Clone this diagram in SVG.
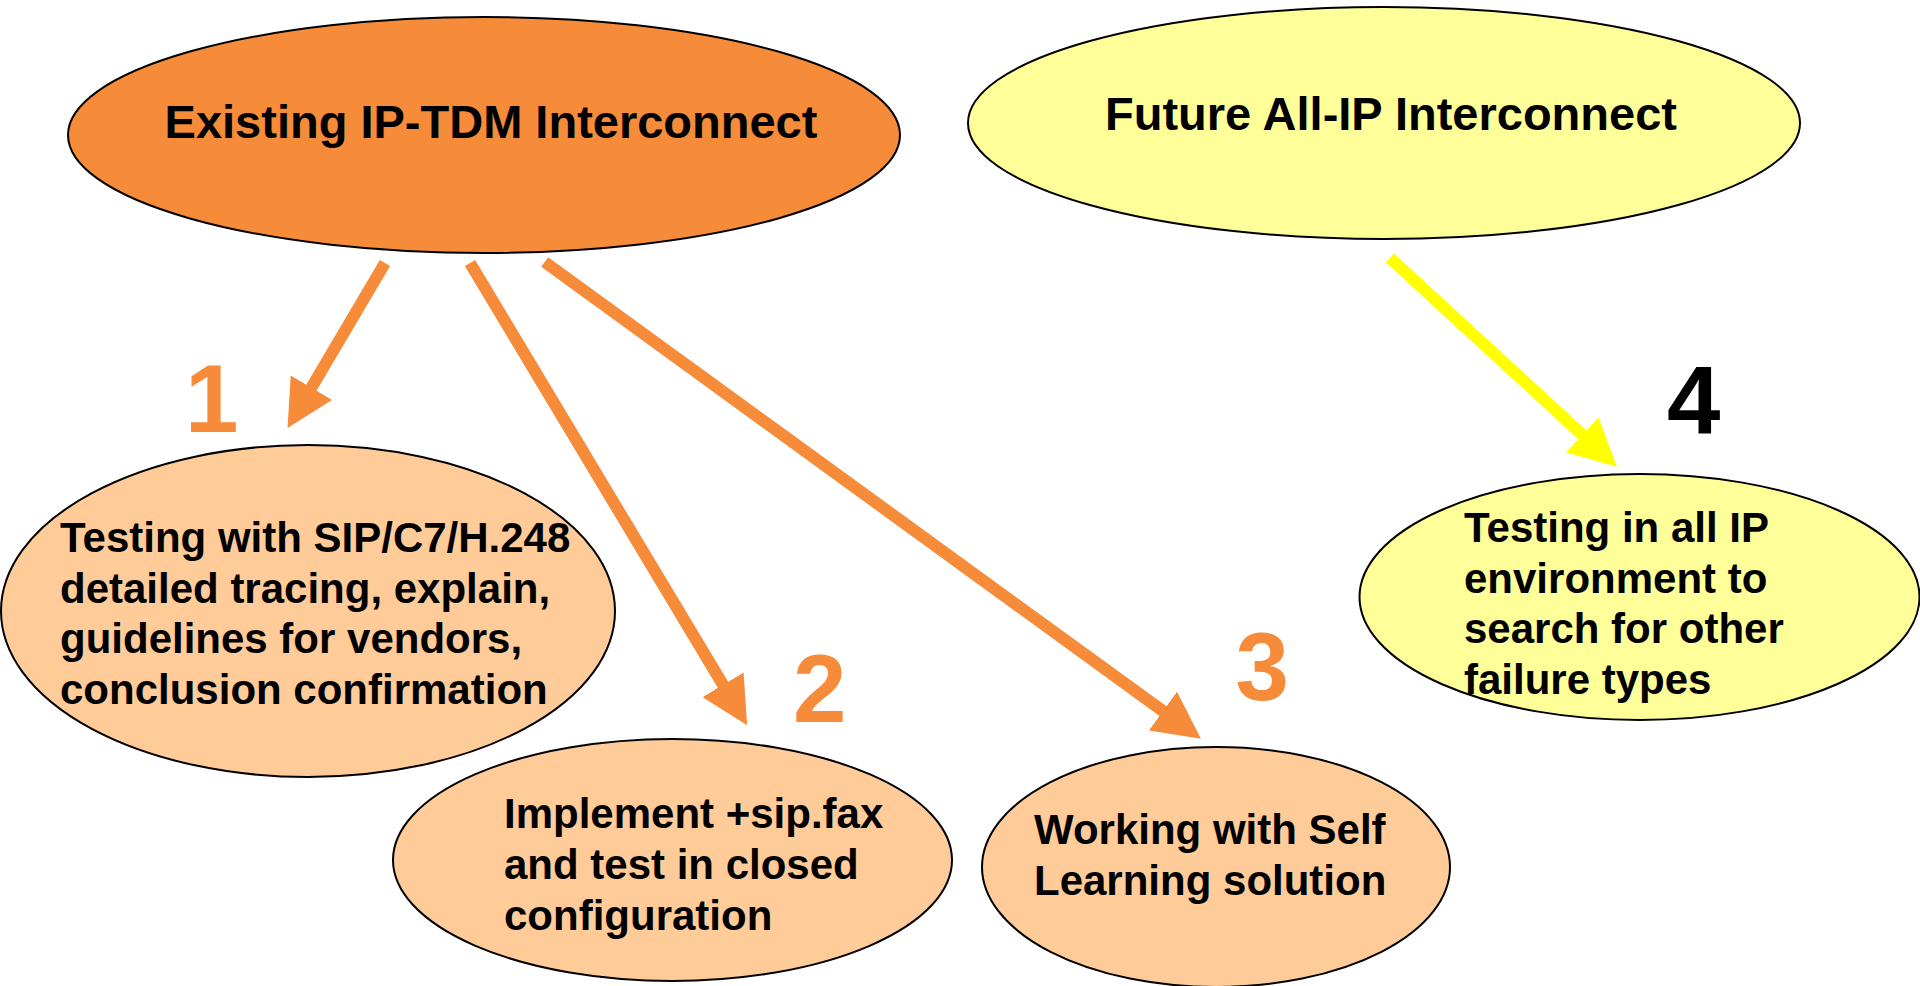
<svg xmlns="http://www.w3.org/2000/svg" width="1920" height="986" viewBox="0 0 1920 986">
<style>
  .node { stroke: #000; stroke-width: 2; }
  .dark { fill: #F68B3A; }
  .light { fill: #FFCC99; }
  .pale { fill: #FFFF99; }
  .t { font-family: "Liberation Sans", Arial, sans-serif; font-weight: bold; fill: #000; }
  .title { font-size: 47px; text-anchor: middle; }
  .body { font-size: 42px; }
  .num { font-size: 96px; font-family: "Liberation Sans", Arial, sans-serif; font-weight: bold; }
  .ora { stroke: #F68B3A; stroke-width: 12; fill: none; }
  .yel { stroke: #FFFF00; stroke-width: 12; fill: none; }
</style>
<defs>
  <marker id="headO" markerUnits="userSpaceOnUse" viewBox="0 0 47 48" refX="1" refY="24" markerWidth="47" markerHeight="48" orient="auto">
    <path d="M0,0 L47,24 L0,48 Z" fill="#F68B3A"/>
  </marker>
  <marker id="headY" markerUnits="userSpaceOnUse" viewBox="0 0 47 48" refX="1" refY="24" markerWidth="47" markerHeight="48" orient="auto">
    <path d="M0,0 L47,24 L0,48 Z" fill="#FFFF00"/>
  </marker>
</defs>

<g id="existing">
  <ellipse class="node dark" cx="484" cy="135" rx="416" ry="118"/>
  <text class="t title" x="491" y="138">Existing IP-TDM Interconnect</text>
</g>

<g id="future">
  <ellipse class="node pale" cx="1384" cy="123" rx="416" ry="116"/>
  <text class="t title" x="1391" y="130">Future All-IP Interconnect</text>
</g>

<g id="item1">
  <ellipse class="node light" cx="308" cy="611" rx="307" ry="166"/>
  <text class="t body" x="60" y="552">Testing with SIP/C7/H.248</text>
  <text class="t body" x="60" y="603">detailed tracing, explain,</text>
  <text class="t body" x="60" y="653">guidelines for vendors,</text>
  <text class="t body" x="60" y="704">conclusion confirmation</text>
</g>

<g id="item2">
  <ellipse class="node light" cx="672.5" cy="860" rx="279.5" ry="121"/>
  <text class="t body" x="504" y="828">Implement +sip.fax</text>
  <text class="t body" x="504" y="879">and test in closed</text>
  <text class="t body" x="504" y="930">configuration</text>
</g>

<g id="item3">
  <ellipse class="node light" cx="1216" cy="867" rx="234" ry="120"/>
  <text class="t body" x="1034" y="844">Working with Self</text>
  <text class="t body" x="1034" y="895">Learning solution</text>
</g>

<g id="item4">
  <ellipse class="node pale" cx="1639.5" cy="597" rx="280" ry="123"/>
  <text class="t body" x="1464" y="542">Testing in all IP</text>
  <text class="t body" x="1464" y="593">environment to</text>
  <text class="t body" x="1464" y="643">search for other</text>
  <text class="t body" x="1464" y="694">failure types</text>
</g>

<g id="connectors">
  <line class="ora" x1="385" y1="263" x2="310.9" y2="388.5" marker-end="url(#headO)"/>
  <line class="ora" x1="470" y1="263" x2="723.5" y2="685.7" marker-end="url(#headO)"/>
  <line class="ora" x1="544.7" y1="262" x2="1163.7" y2="711.7" marker-end="url(#headO)"/>
  <line class="yel" x1="1390" y1="258" x2="1583.1" y2="435.5" marker-end="url(#headY)"/>
</g>

<g id="labels">
  <text class="num" x="185" y="432" fill="#F68B3A">1</text>
  <text class="num" x="819.7" y="722" fill="#F68B3A" text-anchor="middle">2</text>
  <text class="num" x="1262.3" y="700" fill="#F68B3A" text-anchor="middle">3</text>
  <text class="num" x="1693.8" y="434" fill="#000" text-anchor="middle">4</text>
</g>
</svg>
